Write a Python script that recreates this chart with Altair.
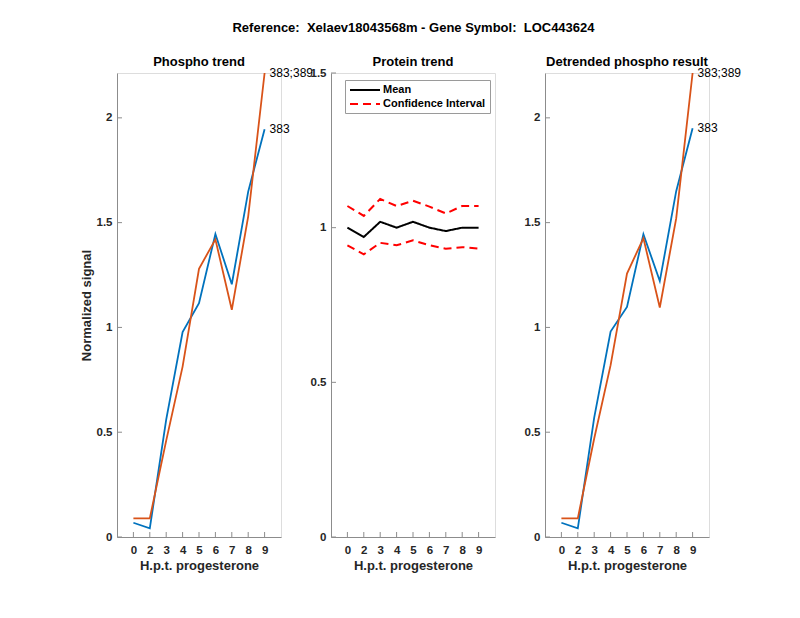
import altair as alt
import pandas as pd

# ---- data ----
hpt_labels = ["0", "2", "3", "4", "5", "6", "7", "8", "9"]
positions = [1, 2, 3, 4, 5, 6, 7, 8, 9]

phospho_383 = [0.068, 0.041, 0.56, 0.978, 1.116, 1.446, 1.206, 1.648, 1.946]
phospho_383_389 = [0.089, 0.089, 0.46, 0.813, 1.28, 1.42, 1.084, 1.53, 2.214]

protein_mean = [1.0, 0.97, 1.019, 1.0, 1.019, 1.0, 0.989, 1.0, 1.0]
protein_upper = [1.07, 1.038, 1.093, 1.07, 1.087, 1.068, 1.046, 1.07, 1.07]
protein_lower = [0.943, 0.914, 0.951, 0.943, 0.959, 0.943, 0.932, 0.937, 0.932]

detr_383 = [0.068, 0.041, 0.57, 0.98, 1.098, 1.445, 1.221, 1.65, 1.95]
detr_383_389 = [0.089, 0.089, 0.47, 0.82, 1.257, 1.426, 1.095, 1.52, 2.214]

phospho_yticks = [0, 0.5, 1, 1.5, 2]
protein_yticks = [0, 0.5, 1, 1.5]

FONT = "Liberation Sans"
AX = "#8c8c8c"
LAB = "#262626"
W, H = 164, 464
TICK = 5
TICKFS = 11.5

label_expr = "[" + ",".join("'%s'" % s for s in hpt_labels) + "][datum.value - 1]"
xscale = alt.Scale(domain=[0, 10], nice=False, zero=False)


def xaxis():
    return alt.Axis(values=positions, labelExpr=label_expr, ticks=False, grid=False,
                    title="H.p.t. progesterone", labelPadding=7, titlePadding=4,
                    domainColor=AX, labelColor=LAB, titleColor=LAB,
                    labelFont=FONT, labelFontSize=TICKFS, labelFontWeight="bold",
                    titleFont=FONT, titleFontSize=13, titleFontWeight="bold")


def yaxis(vals, title):
    return alt.Axis(values=vals, labelExpr="'' + datum.value", ticks=False, grid=False,
                    labelPadding=5, domainColor=AX, labelColor=LAB, titleColor=LAB,
                    labelFont=FONT, labelFontSize=TICKFS, labelFontWeight="bold",
                    titleFont=FONT, titleFontSize=13, titleFontWeight="bold", titlePadding=3,
                    title=title if title else "")


def tick_layers(yvals, yscale, ytitle):
    xt = alt.Chart(pd.DataFrame({"x": positions})).mark_rule(color=AX, strokeWidth=1).encode(
        x=alt.X("x:Q", scale=xscale, axis=xaxis()),
        y=alt.value(H), y2=alt.value(H - TICK))
    yt = alt.Chart(pd.DataFrame({"y": yvals})).mark_rule(color=AX, strokeWidth=1).encode(
        y=alt.Y("y:Q", scale=yscale, axis=yaxis(yvals, ytitle)),
        x=alt.value(0), x2=alt.value(TICK))
    return [xt, yt]


def phospho_panel(title, s383, s389, ylabel):
    ymax = 2.214
    yscale = alt.Scale(domain=[0, ymax], nice=False, zero=False)
    df = pd.DataFrame({"x": positions * 2, "y": s383 + s389,
                       "series": ["383"] * 9 + ["383;389"] * 9})
    base = alt.Chart(df)
    lines = base.mark_line(strokeWidth=1.8).encode(
        x=alt.X("x:Q", scale=xscale, axis=xaxis()),
        y=alt.Y("y:Q", scale=yscale, axis=yaxis(phospho_yticks, ylabel)),
        color=alt.Color("series:N", scale=alt.Scale(domain=["383", "383;389"],
                                                      range=["#0072BD", "#D95319"]), legend=None),
    )
    labels = base.transform_filter("datum.x == 9").mark_text(
        align="left", baseline="middle", dx=5, font=FONT, fontSize=12, color="black").encode(
        x=alt.X("x:Q", scale=xscale, axis=xaxis()),
        y=alt.Y("y:Q", scale=yscale, axis=yaxis(phospho_yticks, ylabel)),
        text="series:N")
    return alt.layer(lines, labels, *tick_layers(phospho_yticks, yscale, ylabel)).properties(
        width=W, height=H,
        title=alt.TitleParams(title, font=FONT, fontSize=13, fontWeight="bold", color="black", offset=-2))


def protein_panel():
    yscale = alt.Scale(domain=[0, 1.5], nice=False, zero=False)
    rows = []
    for name, series, vals in [("mean", "Mean", protein_mean),
                               ("upper", "Confidence Interval", protein_upper),
                               ("lower", "Confidence Interval", protein_lower)]:
        for p, v in zip(positions, vals):
            rows.append({"x": p, "y": v, "series": series, "line": name})
    df = pd.DataFrame(rows)
    dom = ["Mean", "Confidence Interval"]
    leg = dict(title=None, orient="none", legendX=14, legendY=7,
               symbolType="M-1,0H5", symbolSize=100, symbolStrokeWidth=2,
               labelFont=FONT, labelFontSize=11, labelFontWeight="bold",
               labelColor="black", strokeColor="#9a9a9a",
               fillColor="white", padding=4, rowPadding=3, labelOffset=22)
    lines = alt.Chart(df).mark_line(strokeWidth=2).encode(
        x=alt.X("x:Q", scale=xscale, axis=xaxis()),
        y=alt.Y("y:Q", scale=yscale, axis=yaxis(protein_yticks, None)),
        color=alt.Color("series:N", scale=alt.Scale(domain=dom, range=["black", "#ff0000"]),
                        legend=alt.Legend(**leg)),
        strokeDash=alt.StrokeDash("series:N", scale=alt.Scale(domain=dom, range=[[1, 0], [8, 5]]),
                                  legend=alt.Legend(**leg)),
        detail="line:N",
    )
    return alt.layer(lines, *tick_layers(protein_yticks, yscale, None)).properties(
        width=W, height=H,
        title=alt.TitleParams("Protein trend", font=FONT, fontSize=13, fontWeight="bold", color="black", offset=-2))


left = phospho_panel("Phospho trend", phospho_383, phospho_383_389, "Normalized signal")
mid = protein_panel()
right = phospho_panel("Detrended phospho result", detr_383, detr_383_389, None)

chart = alt.hconcat(left, mid, right, spacing=50, bounds="flush").resolve_scale(
    color="independent", strokeDash="independent"
).properties(
    title=alt.TitleParams("Reference:\u00a0 Xelaev18043568m - Gene Symbol:\u00a0 LOC443624",
                          font=FONT, fontSize=13, fontWeight="bold", color="black",
                          anchor="middle", dx=3, offset=21),
    padding={"left": 71, "top": 13, "right": 5, "bottom": 5},
).configure_view(stroke="transparent", strokeWidth=0).configure(background="white")

chart.save("out.html", embed_options={"renderer": "svg", "actions": False})
